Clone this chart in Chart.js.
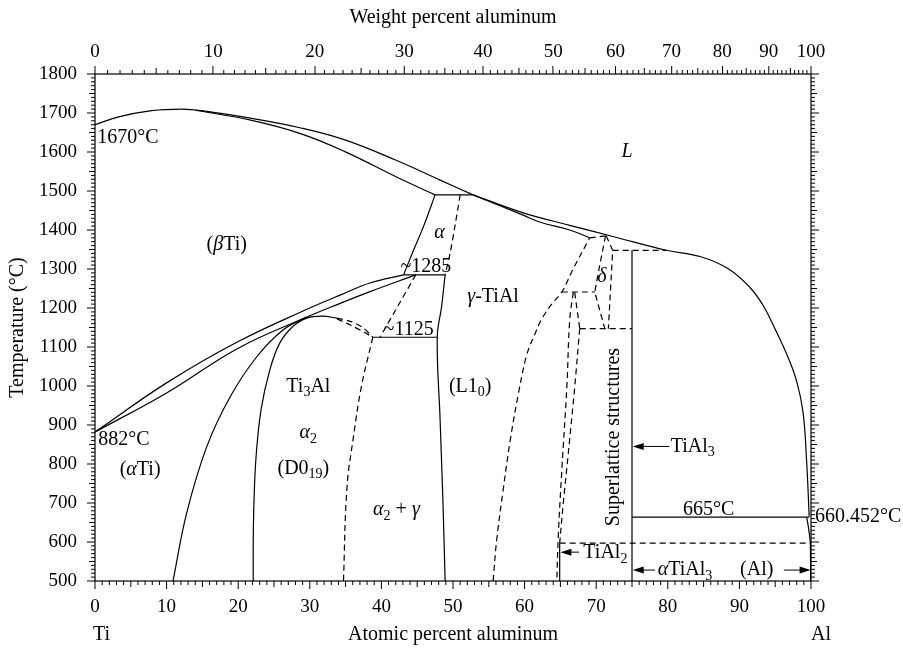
<!DOCTYPE html>
<html lang="en">
<head>
<meta charset="UTF-8">
<title>Ti-Al phase diagram</title>
<script src="https://cdn.jsdelivr.net/npm/chart.js"></script>
<style>
    html, body { margin: 0; padding: 0; background: #ffffff; }
    #wrap { width: 903px; height: 651px; }
</style>
</head>
<body>
<div id="wrap"><canvas id="chart" width="903" height="651"></canvas></div>
<script>
// axis ticks
const atTicks = [0, 10, 20, 30, 40, 50, 60, 70, 80, 90, 100];
const tempTicks = [500, 600, 700, 800, 900, 1000, 1100, 1200, 1300, 1400, 1500, 1600, 1700, 1800];
const wtTickLabels = ['0', '10', '20', '30', '40', '50', '60', '70', '80', '90', '100'];
const wtTickPos = [0, 16.5, 30.7, 43.2, 54.2, 64.0, 72.7, 80.5, 87.6, 94.1, 100]; // in at.% Al

// phase boundaries, [at.% Al, °C]
const liquidusTi = [[0, 1670], [3.3, 1690], [7.9, 1706], [12.1, 1710], [14.9, 1706], [21.9, 1686], [28.9, 1661], [34.9, 1631], [41.9, 1580], [48.2, 1528], [52.8, 1490]];
const solidusBeta = [[14.0, 1707], [21.9, 1681], [28.9, 1646], [34.9, 1601], [43.0, 1528], [47.5, 1490]];
const iso1490 = [[47.5, 1490], [52.8, 1490]];
const liquidusAl = [[52.8, 1490], [59.8, 1444], [66.3, 1412], [72.6, 1382], [79.8, 1348], [84.5, 1332], [88.5, 1300], [91.5, 1252], [93.3, 1207], [94.8, 1153], [96.6, 1082], [98.0, 1012], [98.9, 931], [99.4, 803], [99.75, 665]];
const solidusGamma = [[52.8, 1490], [59.8, 1438], [62.2, 1420], [66.3, 1400], [69.1, 1380]];
const alphaLeft = [[47.5, 1490], [45.9, 1410], [44.3, 1340], [43.1, 1285]];
const alphaRight = [[51.0, 1490], [50.3, 1413], [49.6, 1341], [48.9, 1285]];
const iso1285 = [[43.1, 1285], [48.9, 1285]];
const gammaLeft = [[48.9, 1285], [48.4, 1203], [47.8, 1125], [48.2, 913], [48.6, 700], [48.9, 500]];
const iso1125 = [[38.8, 1125], [47.8, 1125]];
const betaTransus = [[0, 882], [10, 1008], [20, 1114], [30, 1200], [34.5, 1235], [38.4, 1264], [43.1, 1285]];
const alphaTransus = [[0, 882], [10, 982], [20, 1097], [30, 1180], [34.0, 1210], [38.4, 1242], [44.8, 1285]];
const alphaSolvus = [[10.9, 500], [12.8, 674], [15.6, 844], [18.9, 973], [22.6, 1075], [26.3, 1144], [29.5, 1177]];
const alpha2Left = [[22.1, 500], [22.1, 600], [22.2, 700], [22.5, 820], [23.2, 940], [24.4, 1040], [25.8, 1110], [27.6, 1152], [29.6, 1174], [31.8, 1179], [33.8, 1174]];
const domeUpper = [[33.8, 1174], [35.8, 1165], [37.4, 1150], [38.8, 1125]];
const domeLower = [[33.8, 1172], [35.8, 1155], [37.4, 1140], [38.8, 1125]];
const alpha2Right = [[38.8, 1125], [37.2, 998], [36.1, 870], [35.2, 742], [34.7, 500]];
const alphaAlpha2 = [[44.8, 1285], [42.3, 1205], [39.8, 1125]];
const gammaRight = [[55.6, 500], [56.1, 605], [57.0, 733], [58.0, 862], [59.1, 977], [60.3, 1080], [61.5, 1136], [62.3, 1169], [63.7, 1208], [65.2, 1241], [66.8, 1301], [69.1, 1380]];
const tial2Left = [[66.8, 1240], [66.3, 1169], [65.9, 998], [65.2, 785], [64.7, 614], [64.5, 500]];
const tial2Top = [[67.0, 1240], [67.7, 1147]];
const tial2Right = [[67.7, 1147], [67.0, 998], [66.1, 827], [65.4, 699], [64.9, 597]];
const tial2Line = [[64.9, 597], [64.9, 500]];
const iso1240 = [[65.2, 1241], [69.8, 1241]];
const deltaTop = [[69.1, 1380], [71.3, 1385]];
const deltaLeft = [[71.3, 1385], [70.5, 1310], [69.8, 1241], [71.2, 1147]];
const deltaRight = [[71.4, 1385], [72.3, 1348], [71.7, 1147]];
const iso1350 = [[72.3, 1348], [79.8, 1348]];
const iso1150 = [[67.7, 1147], [75, 1147]];
const tial3Line = [[75, 1348], [75, 500]];
const iso665 = [[75, 664], [99.75, 664]];
const iso600 = [[64.9, 597], [100, 597]];
const alSolvus = [[99.4, 664], [99.7, 630], [99.9, 597], [99.95, 500]];

// [points, dashed, tension]
const curves = [
    [liquidusTi, false, 0.4], [solidusBeta, false, 0.4], [iso1490, false, 0],
    [liquidusAl, false, 0.4], [solidusGamma, false, 0.4],
    [alphaLeft, false, 0.3], [alphaRight, true, 0.3], [iso1285, false, 0],
    [gammaLeft, false, 0.4], [iso1125, false, 0],
    [betaTransus, false, 0.4], [alphaTransus, false, 0.4],
    [alphaSolvus, false, 0.4], [alpha2Left, false, 0.4],
    [domeUpper, true, 0.3], [domeLower, true, 0.3],
    [alpha2Right, true, 0.4], [alphaAlpha2, true, 0.2],
    [gammaRight, true, 0.35],
    [tial2Left, true, 0.4], [tial2Top, true, 0], [tial2Right, true, 0.4], [tial2Line, false, 0],
    [iso1240, true, 0], [deltaTop, true, 0], [deltaLeft, true, 0], [deltaRight, true, 0],
    [iso1350, true, 0], [iso1150, true, 0], [tial3Line, false, 0],
    [iso665, false, 0], [iso600, true, 0], [alSolvus, false, 0.4]
];

// text inside the plot: segments [text, flags] (i = italic, s = subscript)
const notes = [
    { seg: [['1670°C']], x: 0.3, t: 1636, align: 'left' },
    { seg: [['('], ['β', 'i'], ['Ti)']], x: 18.4, t: 1362, align: 'center' },
    { seg: [['L', 'i']], x: 74.3, t: 1601, align: 'center' },
    { seg: [['α', 'i']], x: 48.1, t: 1393, align: 'center' },
    { seg: [['~1285']], x: 46.2, t: 1305, align: 'center' },
    { seg: [['γ', 'i'], ['-TiAl']], x: 55.6, t: 1229, align: 'center' },
    { seg: [['~1125']], x: 43.8, t: 1144, align: 'center' },
    { seg: [['Ti'], ['3', 's'], ['Al']], x: 29.8, t: 998, align: 'center' },
    { seg: [['α', 'i'], ['2', 's']], x: 29.8, t: 879, align: 'center' },
    { seg: [['(D0'], ['19', 's'], [')']], x: 29.1, t: 789, align: 'center' },
    { seg: [['882°C']], x: 0.46, t: 862, align: 'left' },
    { seg: [['('], ['α', 'i'], ['Ti)']], x: 6.3, t: 785, align: 'center' },
    { seg: [['(L1'], ['0', 's'], [')']], x: 52.4, t: 998, align: 'center' },
    { seg: [['α', 'i'], ['2', 's'], [' + '], ['γ', 'i']], x: 42.1, t: 682, align: 'center' },
    { seg: [['δ', 'i']], x: 70.8, t: 1280, align: 'center' },
    { seg: [['Superlattice structures']], x: 72.5, t: 869, align: 'center', rot: true },
    { seg: [['TiAl'], ['3', 's']], x: 80.4, t: 845, align: 'left' },
    { seg: [['665°C']], x: 85.7, t: 682, align: 'center' },
    { seg: [['660.452°C']], x: 100.55, t: 665, align: 'left' },
    { seg: [['TiAl'], ['2', 's']], x: 68.2, t: 572, align: 'left' },
    { seg: [['α', 'i'], ['TiAl'], ['3', 's']], x: 78.6, t: 528, align: 'left' },
    { seg: [['(Al)']], x: 90.1, t: 528, align: 'left' }
];
const arrows = [
    { from: [80.2, 845], to: [75.1, 845] },
    { from: [67.6, 574], to: [65.0, 574] },
    { from: [78.2, 528], to: [75.1, 528] },
    { from: [96.2, 528], to: [99.95, 528] }
];

const FONT = '"Liberation Serif", "Times New Roman", serif';
const SIZE = 20;
const TICK_SIZE = 19;

function wtToAt(w) {
    const a = w / 26.98, b = (100 - w) / 47.87;
    return 100 * a / (a + b);
}

function drawRich(ctx, seg, x, y, align) {
    const parts = seg.map(([t, f = '']) => {
        const sub = f.includes('s');
        const fs = sub ? SIZE * 0.7 : SIZE;
        const font = (f.includes('i') ? 'italic ' : '') + fs + 'px ' + FONT;
        ctx.font = font;
        return { t, font, w: ctx.measureText(t).width, dy: sub ? SIZE * 0.3 : 0 };
    });
    const total = parts.reduce((s, p) => s + p.w, 0);
    let cx = align === 'center' ? x - total / 2 : x;
    ctx.textAlign = 'left';
    ctx.textBaseline = 'middle';
    parts.forEach(p => {
        ctx.font = p.font;
        ctx.fillText(p.t, cx, y + p.dy);
        cx += p.w;
    });
}

const decor = {
    id: 'decor',
    afterDatasetsDraw(chart) {
        const { ctx, chartArea: a, scales } = chart;
        const sx = scales.x, sy = scales.y;
        ctx.save();
        ctx.strokeStyle = '#000';
        ctx.fillStyle = '#000';
        ctx.lineWidth = 1.2;
        ctx.strokeRect(a.left, a.top, a.right - a.left, a.bottom - a.top);

        // tick marks
        ctx.lineWidth = 1;
        ctx.beginPath();
        for (let t = 500; t <= 1800; t += 10) {
            const py = sy.getPixelForValue(t);
            const len = t % 100 === 0 ? 8 : (t % 50 === 0 ? 6 : 4);
            ctx.moveTo(a.left, py); ctx.lineTo(a.left - len, py);
            ctx.moveTo(a.right, py); ctx.lineTo(a.right + len, py);
        }
        for (let v = 0; v <= 100; v++) {
            const px = sx.getPixelForValue(v);
            const len = v % 10 === 0 ? 8 : (v % 5 === 0 ? 6 : 4);
            ctx.moveTo(px, a.bottom); ctx.lineTo(px, a.bottom + len);
        }
        for (let w = 0; w <= 100; w++) {
            const px = sx.getPixelForValue(wtToAt(w));
            const len = w % 10 === 0 ? 8 : (w % 5 === 0 ? 6 : 4);
            ctx.moveTo(px, a.top); ctx.lineTo(px, a.top - len);
        }
        ctx.stroke();

        // arrows
        arrows.forEach(ar => {
            const x0 = sx.getPixelForValue(ar.from[0]), y0 = sy.getPixelForValue(ar.from[1]);
            const x1 = sx.getPixelForValue(ar.to[0]), y1 = sy.getPixelForValue(ar.to[1]);
            const dir = Math.sign(x1 - x0);
            ctx.beginPath();
            ctx.moveTo(x0, y0); ctx.lineTo(x1 - dir * 8, y1);
            ctx.stroke();
            ctx.beginPath();
            ctx.moveTo(x1, y1);
            ctx.lineTo(x1 - dir * 11, y1 - 3.5);
            ctx.lineTo(x1 - dir * 11, y1 + 3.5);
            ctx.closePath();
            ctx.fill();
        });

        // labels
        notes.forEach(n => {
            const px = sx.getPixelForValue(n.x), py = sy.getPixelForValue(n.t);
            if (n.rot) {
                ctx.save();
                ctx.translate(px, py);
                ctx.rotate(-Math.PI / 2);
                drawRich(ctx, n.seg, 0, 0, 'center');
                ctx.restore();
            } else {
                drawRich(ctx, n.seg, px, py, n.align);
            }
        });

        // element names under the axis
        drawRich(ctx, [['Ti']], sx.getPixelForValue(0) - 2, 635, 'left');
        drawRich(ctx, [['Al']], sx.getPixelForValue(100), 635, 'left');
        ctx.restore();
    }
};

const tickFont = { family: FONT, size: TICK_SIZE };
const titleFont = { family: FONT, size: SIZE };

new Chart(document.getElementById('chart'), {
    type: 'scatter',
    data: {
        datasets: curves.map(([pts, dashed, tension]) => ({
            data: pts.map(([x, y]) => ({ x, y })),
            showLine: true,
            pointRadius: 0,
            borderColor: '#000',
            borderWidth: 1.2,
            borderDash: dashed ? [6, 4] : [],
            tension: tension,
            fill: false
        }))
    },
    options: {
        responsive: false,
        animation: false,
        layout: { padding: { left: 0, right: 92, top: 0, bottom: 0 } },
        plugins: { legend: { display: false }, tooltip: { enabled: false } },
        scales: {
            x: {
                type: 'linear', position: 'bottom', min: 0, max: 100,
                grid: { display: false, drawTicks: false },
                border: { display: false },
                afterBuildTicks: s => { s.ticks = atTicks.map(v => ({ value: v })); },
                ticks: { autoSkip: false, maxRotation: 0, padding: 15, color: '#000', font: tickFont,
                    callback: v => String(v) },
                title: { display: true, text: 'Atomic percent aluminum', color: '#000', font: titleFont, padding: { top: 0, bottom: 4 } },
                afterFit: s => { s.height = 70; }
            },
            x2: {
                type: 'linear', position: 'top', min: 0, max: 100,
                grid: { display: false, drawTicks: false },
                border: { display: false },
                afterBuildTicks: s => { s.ticks = wtTickPos.map(v => ({ value: v })); },
                ticks: { autoSkip: false, maxRotation: 0, padding: 11, color: '#000', font: tickFont,
                    callback: (v, i) => wtTickLabels[i] },
                title: { display: true, text: 'Weight percent aluminum', color: '#000', font: titleFont, padding: { top: 6, bottom: 0 } },
                afterFit: s => { s.height = 74; }
            },
            y: {
                type: 'linear', position: 'left', min: 500, max: 1800,
                grid: { display: false, drawTicks: false },
                border: { display: false },
                afterBuildTicks: s => { s.ticks = tempTicks.map(v => ({ value: v })); },
                ticks: { autoSkip: false, padding: 18, color: '#000', font: tickFont,
                    callback: v => String(v) },
                title: { display: true, text: 'Temperature (°C)', color: '#000', font: titleFont, padding: { top: 6, bottom: 0 } },
                afterFit: s => { s.width = 95; }
            }
        }
    },
    plugins: [decor]
});
</script>
</body>
</html>
